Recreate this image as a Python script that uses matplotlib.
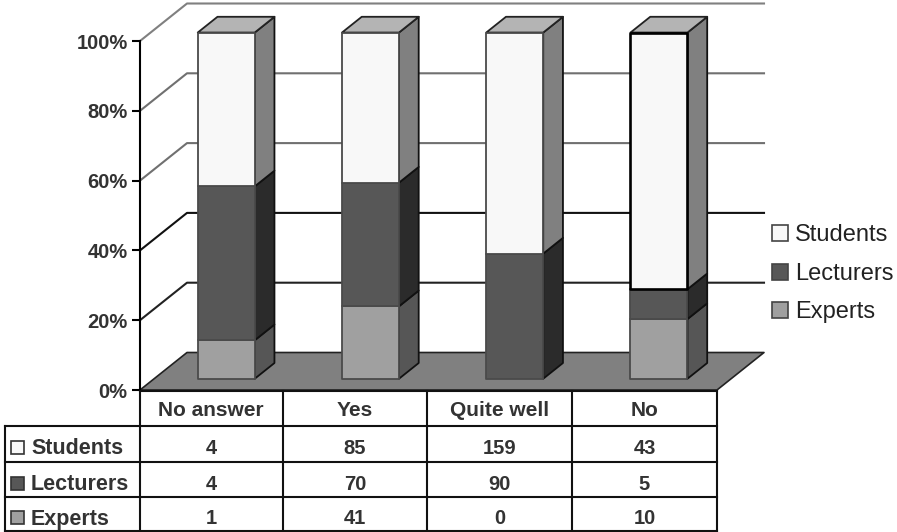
"""Stacked 100% bars in oblique 3D with a data table below."""

import numpy as np
import matplotlib
matplotlib.use("Agg")
import matplotlib.pyplot as plt
from matplotlib.patches import Polygon, Rectangle

categories = ["No answer", "Yes", "Quite well", "No"]
series_names = ["Students", "Lecturers", "Experts"]
students = [4, 85, 159, 43]
lecturers = [4, 70, 90, 5]
experts = [1, 41, 0, 10]
pct_ticks = [0, 20, 40, 60, 80, 100]

plt.rcParams['font.family'] = ['Liberation Sans', 'DejaVu Sans']

W, H = 897, 532
fig = plt.figure(figsize=(W / 100, H / 100), dpi=100)

# Chart axes: x in category units, y in percent
ax = fig.add_axes([140 / W, (H - 390) / H, 577 / W, 349 / H])
ax.set_xlim(0, 4)
ax.set_ylim(0, 100)
ax.patch.set_alpha(0)

# one unit of depth moves this far right and up
DEPTH_X = 47 / 144.25
DEPTH_Y = 37.5 / 3.49
BAR_W = 0.395
BAR_D0, BAR_D1 = 0.3, 0.72
BAR_SCALE = 0.992


def pt(x, d, y):
    return (x + d * DEPTH_X, y + d * DEPTH_Y)


def face(pts, fc, ec, lw=1.2, z=3):
    ax.add_patch(Polygon(pts, closed=True, fc=fc, ec=ec, lw=lw, zorder=z,
                         clip_on=False, joinstyle='round'))


# wall gridlines
grid_colors = {100: "#808080", 80: "#707070", 60: "#707070", 40: "#111111", 20: "#222222"}
for p in pct_ticks[1:]:
    a = pt(0, 0, p)
    b = pt(0, 1, p)
    c = pt(4, 1, p)
    ax.plot([a[0], b[0], c[0]], [a[1], b[1], c[1]], color=grid_colors[p], lw=1.5,
            clip_on=False, zorder=1)

# floor
face([pt(0, 0, 0), pt(0, 1, 0), pt(4, 1, 0), pt(4, 0, 0)], "#808080", "#222222", 1.2, 2)

# colours per series: front, side, top
fills = {
    "Experts": ("#a0a0a0", "#565656", "#808080"),
    "Lecturers": ("#575757", "#2b2b2b", "#3a3a3a"),
    "Students": ("#f8f8f8", "#808080", "#b4b4b4"),
}
stack = [("Experts", experts), ("Lecturers", lecturers), ("Students", students)]
totals = np.array(students) + np.array(lecturers) + np.array(experts)

for i in range(len(categories)):
    x0 = i + 0.5 - BAR_W / 2
    x1 = x0 + BAR_W
    base = 0.0
    for name, vals in stack:
        h = vals[i] / totals[i] * 100 * BAR_SCALE
        if h == 0:
            continue
        top = base + h
        front, side, cap = fills[name]
        # side face
        face([pt(x1, BAR_D0, base), pt(x1, BAR_D1, base), pt(x1, BAR_D1, top), pt(x1, BAR_D0, top)],
             side, "#111111", 1.3, 3)
        # only the uppermost segment shows its top
        if name == "Students":
            face([pt(x0, BAR_D0, top), pt(x0, BAR_D1, top), pt(x1, BAR_D1, top), pt(x1, BAR_D0, top)],
                 cap, "#222222", 1.3, 3)
        # the last Students segment has a heavy outline
        heavy = name == "Students" and i == 3
        face([pt(x0, BAR_D0, base), pt(x0, BAR_D0, top), pt(x1, BAR_D0, top), pt(x1, BAR_D0, base)],
             front, "#000000" if heavy else "#4a4a4a", 1.9 if heavy else 1.3, 5 if heavy else 4)
        base = top

# y axis
for side in ["top", "right", "bottom"]:
    ax.spines[side].set_visible(False)
ax.spines["left"].set_linewidth(1.5)
ax.set_xticks([])
ax.set_yticks(pct_ticks)
ax.set_yticklabels(["{}%".format(p) for p in pct_ticks], fontsize=14.5, fontweight="bold", color="#333333")
ax.tick_params(axis='y', length=6, width=1.5, pad=3)

# Table and legend are laid out on a pixel overlay
ov = fig.add_axes([0, 0, 1, 1])
ov.set_xlim(0, W)
ov.set_ylim(H, 0)
ov.axis("off")
ov.patch.set_alpha(0)

col_x = [5, 139.5, 283, 427, 572, 717]
row_y = [390.5, 426, 462, 497, 531]
LINE = "#111111"
ov.plot([col_x[1], col_x[5]], [row_y[0], row_y[0]], color=LINE, lw=1.5)
ov.plot([col_x[0], col_x[5]], [row_y[1], row_y[1]], color=LINE, lw=1.5)
for y in row_y[2:]:
    ov.plot([col_x[0], col_x[5]], [y, y], color=LINE, lw=1.5)
ov.plot([col_x[0], col_x[0]], [row_y[1], row_y[4]], color=LINE, lw=1.5)
for x in col_x[1:]:
    ov.plot([x, x], [row_y[0], row_y[4]], color=LINE, lw=1.5)

for i, cat in enumerate(categories):
    cx = (col_x[i + 1] + col_x[i + 2]) / 2
    ov.text(cx, 410, cat, ha="center", va="center", fontsize=15, fontweight="bold", color="#333333")

rows = [students, lecturers, experts]
for r, name in enumerate(series_names):
    cy = (row_y[r + 1] + row_y[r + 2]) / 2
    ov.add_patch(Rectangle((11, cy - 3), 13, 13, fc=fills[name][0], ec="#333333", lw=1.2))
    ov.text(31, cy + 5, name, ha="left", va="center", fontsize=15.5, fontweight="bold", color="#333333")
    for i, v in enumerate(rows[r]):
        cx = (col_x[i + 1] + col_x[i + 2]) / 2
        ov.text(cx, cy + 5, str(v), ha="center", va="center", fontsize=14.5, fontweight="bold", color="#333333")

# legend
for name, y in zip(series_names, [233, 272, 310]):
    ov.add_patch(Rectangle((772, y - 8), 16, 16, fc=fills[name][0], ec="#444444", lw=1.2))
    ov.text(795, y + 2, name, ha="left", va="center", fontsize=17, color="#222222")

fig.savefig("out.png", dpi=100)
print("Finished.")
